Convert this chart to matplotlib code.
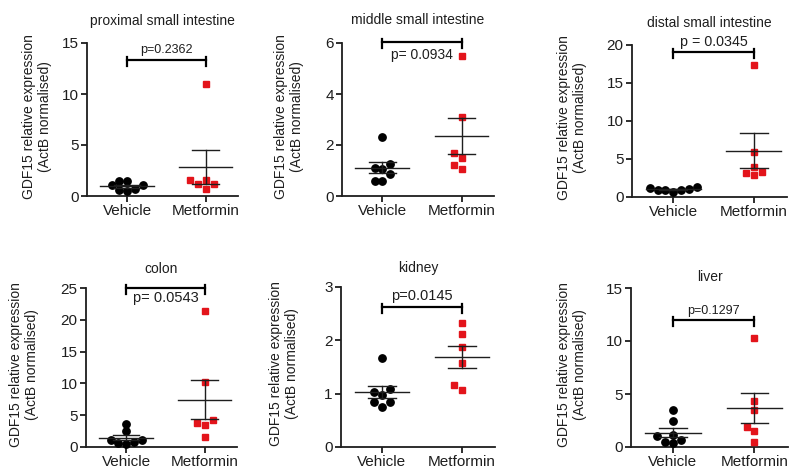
import numpy as np
import matplotlib
matplotlib.use("Agg")
import matplotlib.pyplot as plt

plt.rcParams['font.family'] = ['Liberation Sans', 'DejaVu Sans']

groups = ["Vehicle", "Metformin"]
tissues = ["proximal small intestine", "middle small intestine", "distal small intestine",
           "colon", "kidney", "liver"]

# values (GDF15, ActB normalised)
proximal_vehicle = [0.62, 1.05, 1.44, 0.65, 1.05, 1.5, 0.5]
proximal_metformin = [11.0, 1.55, 0.65, 1.55, 1.15, 1.2]
middle_vehicle = [2.3, 1.05, 1.1, 1.25, 0.85, 0.6, 0.6]
middle_metformin = [5.5, 3.1, 1.5, 1.7, 1.2, 1.05]
distal_vehicle = [0.97, 1.32, 0.88, 1.19, 0.66, 1.1, 0.88]
distal_metformin = [17.4, 5.9, 3.3, 2.85, 3.95, 3.15]
colon_vehicle = [0.63, 1.15, 3.6, 2.46, 0.79, 1.15, 0.52]
colon_metformin = [21.4, 10.2, 4.3, 3.4, 3.7, 1.5]
kidney_vehicle = [1.675, 0.975, 1.08, 1.04, 0.75, 0.85, 0.84]
kidney_metformin = [1.07, 2.33, 2.125, 1.875, 1.58, 1.16]
liver_vehicle = [0.38, 1.1, 3.46, 1.0, 2.42, 0.47, 0.69]
liver_metformin = [10.28, 4.37, 3.46, 1.54, 0.47, 1.89]

vehicle = [proximal_vehicle, middle_vehicle, distal_vehicle, colon_vehicle, kidney_vehicle, liver_vehicle]
metformin = [proximal_metformin, middle_metformin, distal_metformin, colon_metformin,
             kidney_metformin, liver_metformin]

p_labels = ["p=0.2362", "p= 0.0934", "p = 0.0345", "p= 0.0543", "p=0.0145", "p=0.1297"]
y_ticks = [[0, 5, 10, 15], [0, 2, 4, 6], [0, 5, 10, 15, 20],
           [0, 5, 10, 15, 20, 25], [0, 1, 2, 3], [0, 5, 10, 15]]

# layout: axes rect in pixels (left, top, width, height), bracket height, p text y,
# p text size, title pad, y label offset (px left of the axis)
W, H = 800, 476
layout = [
    dict(rect=(87, 43, 151, 153), br=13.3, ty=13.75, tva='bottom', fs=9, tpad=13, lx=50),
    dict(rect=(342, 43, 152, 153), br=6.04, ty=5.82, tva='top', fs=10, tpad=14, lx=53),
    dict(rect=(632, 45, 155, 152), br=19.1, ty=19.5, tva='bottom', fs=10.3, tpad=13, lx=60),
    dict(rect=(86, 288, 151, 159), br=25.0, ty=24.6, tva='top', fs=10.5, tpad=11, lx=62),
    dict(rect=(341, 287, 154, 160), br=2.625, ty=2.7, tva='bottom', fs=10.5, tpad=11, lx=57),
    dict(rect=(631, 288, 157, 159), br=12.0, ty=12.3, tva='bottom', fs=9, tpad=5, lx=59),
]

RED = '#e3141b'
INK = '#1e1e1e'


def swarm_x(ax, xc, vals, step_px=7.8, diam_px=7.0):
    # simple beeswarm: spread points sideways when they would overlap
    vals = np.asarray(vals, float)
    pts = ax.transData.transform(np.column_stack([np.full(len(vals), xc), vals]))
    xs = np.zeros(len(vals))
    placed = []
    for i in np.argsort(vals):
        y = pts[i, 1]
        for k in [0, -1, 1, -2, 2, -3, 3, -4, 4, -5, 5]:
            x = pts[i, 0] + k * step_px
            if all((x - px) ** 2 + (y - py) ** 2 >= diam_px ** 2 for px, py in placed):
                break
        placed.append((x, y))
        xs[i] = x
    return ax.transData.inverted().transform(np.column_stack([xs, pts[:, 1]]))[:, 0]


def mean_sem(ax, xc, vals):
    vals = np.asarray(vals, float)
    m = vals.mean()
    s = vals.std(ddof=1) / np.sqrt(len(vals))
    ax.plot([xc - 0.34, xc + 0.34], [m, m], color=INK, lw=1.0, zorder=4)
    ax.plot([xc, xc], [m - s, m + s], color=INK, lw=1.0, zorder=4)
    for yy in (m - s, m + s):
        ax.plot([xc - 0.17, xc + 0.17], [yy, yy], color=INK, lw=1.0, zorder=4)


fig = plt.figure(figsize=(8, 4.76), dpi=100)

for i in range(6):
    lay = layout[i]
    l, t, w, h = lay['rect']
    ax = fig.add_axes([l / W, 1 - (t + h) / H, w / W, h / H])
    top = y_ticks[i][-1]
    ax.set_xlim(-0.51, 1.41)
    ax.set_ylim(0, top)

    for side in ['top', 'right']:
        ax.spines[side].set_visible(False)
    for side in ['left', 'bottom']:
        ax.spines[side].set_linewidth(1.3)
        ax.spines[side].set_color(INK)
    ax.set_yticks(y_ticks[i])
    ax.set_xticks([0, 1])
    ax.set_xticklabels(groups)
    ax.tick_params(direction='out', length=4, width=1.3, color=INK, labelsize=11,
                   labelcolor=INK, pad=2)
    ax.set_ylabel("GDF15 relative expression\n(ActB normalised)", fontsize=10,
                  color=INK, linespacing=1.15, va='center')
    ax.yaxis.set_label_coords(-lay['lx'] / w, 0.52)
    ax.set_title(tissues[i], fontsize=10, color=INK, pad=lay['tpad'])

    xv = swarm_x(ax, 0, vehicle[i])
    xm = swarm_x(ax, 1, metformin[i])
    ax.plot(xv, vehicle[i], 'o', color='black', ms=5.3, clip_on=False, zorder=3)
    ax.plot(xm, metformin[i], 's', color=RED, ms=4.7, clip_on=False, zorder=3)
    mean_sem(ax, 0, vehicle[i])
    mean_sem(ax, 1, metformin[i])

    # significance bracket
    b = lay['br']
    d = top * 0.04
    ax.plot([0, 1], [b, b], color='black', lw=1.6, clip_on=False, zorder=5)
    for xe in (0, 1):
        ax.plot([xe, xe], [b - d, b + d * 0.5], color='black', lw=1.6, clip_on=False, zorder=5)
    ax.text(0.5, lay['ty'], p_labels[i], ha='center', va=lay['tva'], fontsize=lay['fs'],
            color=INK, zorder=6)

fig.savefig("out.png", dpi=100)
